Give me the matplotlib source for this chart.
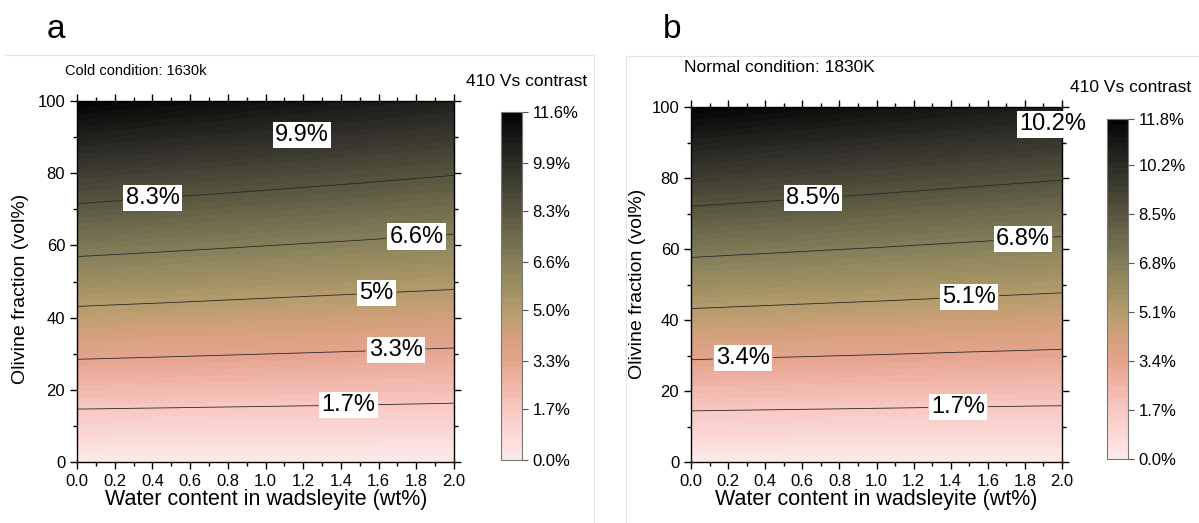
import numpy as np
import matplotlib
matplotlib.use("Agg")
import matplotlib.pyplot as plt
from matplotlib.colors import LinearSegmentedColormap
from matplotlib.lines import Line2D
from matplotlib.ticker import MultipleLocator

plt.rcParams['font.family'] = ['Liberation Sans', 'DejaVu Sans']

# Grid: water content in wadsleyite (wt%) and olivine fraction (vol%)
water = [0.0, 0.5, 1.0, 1.5, 2.0]
olivine = [0, 25, 50, 75, 100]

# 410 km Vs contrast (%) on the grid, rows follow `olivine`, columns follow `water`
contrast_cold = [
    [0.00, 0.00, 0.00, 0.00, 0.00],
    [2.90, 2.83, 2.76, 2.69, 2.61],
    [5.80, 5.66, 5.51, 5.37, 5.23],
    [8.70, 8.48, 8.27, 8.06, 7.84],
    [11.60, 11.31, 11.03, 10.74, 10.45],
]
contrast_normal = [
    [0.00, 0.00, 0.00, 0.00, 0.00],
    [2.95, 2.88, 2.81, 2.74, 2.68],
    [5.90, 5.76, 5.63, 5.49, 5.35],
    [8.85, 8.64, 8.44, 8.23, 8.03],
    [11.80, 11.53, 11.25, 10.98, 10.70],
]

# Labelled contour levels and colour-bar ticks
cold_lines = [1.7, 3.3, 5.0, 6.6, 8.3, 9.9]
cold_line_text = ["1.7%", "3.3%", "5%", "6.6%", "8.3%", "9.9%"]
cold_ticks = [0.0, 1.7, 3.3, 5.0, 6.6, 8.3, 9.9, 11.6]
cold_tick_text = ["0.0%", "1.7%", "3.3%", "5.0%", "6.6%", "8.3%", "9.9%", "11.6%"]
cold_label_pos = [(1.44, 15.5), (1.69, 31.6), (1.59, 46.8), (1.80, 62.6), (0.40, 73.4), (1.19, 91.7)]

normal_lines = [1.7, 3.4, 5.1, 6.8, 8.5, 10.2]
normal_line_text = ["1.7%", "3.4%", "5.1%", "6.8%", "8.5%", "10.2%"]
normal_ticks = [0.0, 1.7, 3.4, 5.1, 6.8, 8.5, 10.2, 11.8]
normal_tick_text = ["0.0%", "1.7%", "3.4%", "5.1%", "6.8%", "8.5%", "10.2%", "11.8%"]
normal_label_pos = [(1.44, 15.8), (0.28, 29.7), (1.50, 46.9), (1.79, 63.8), (0.66, 74.3), (1.95, 95.5)]

cmap = LinearSegmentedColormap.from_list("pink_olive_black", [
    (0.00, "#fdeaea"),
    (0.15, "#f8c6c2"),
    (0.28, "#e6a48f"),
    (0.36, "#d2a07a"),
    (0.44, "#b09a6a"),
    (0.57, "#85805a"),
    (0.71, "#5a5741"),
    (0.85, "#302f29"),
    (1.00, "#030303"),
])

W, H = 1199, 523
fig = plt.figure(figsize=(W / 100, H / 100), dpi=100)


def px(x0, y0, x1, y1):
    return [x0 / W, 1 - y1 / H, (x1 - x0) / W, (y1 - y0) / H]


def panel(ax_box, cb_box, z, vmax, lines, line_text, label_pos, ticks, tick_text,
          letter, letter_xy, cond, cond_xy, cond_size, cbtitle_xy, xlab_xy, ylab_xy):
    ax = fig.add_axes(px(*ax_box))
    X, Y = np.meshgrid(water, olivine)
    Z = np.array(z)
    fill = ax.contourf(X, Y, Z, levels=np.linspace(0, vmax, 57), cmap=cmap, vmin=0, vmax=vmax)
    cs = ax.contour(X, Y, Z, levels=lines, colors="#2a2a2a", linewidths=0.6)
    fmt = dict(zip(cs.levels, line_text))
    labels = ax.clabel(cs, fmt=fmt, manual=label_pos, inline=True, inline_spacing=3, fontsize=17)
    for t in labels:
        t.set_fontsize(17)
        t.set_color("black")
        t.set_alpha(1)
        t.set_bbox(dict(facecolor="white", edgecolor="none", pad=1.5))
        t.set_rotation(0)
        t.set_clip_on(False)
        t.set_zorder(5)
    ax.set_xlim(0, 2)
    ax.set_ylim(0, 100)
    ax.xaxis.set_major_locator(MultipleLocator(0.2))
    ax.xaxis.set_minor_locator(MultipleLocator(0.1))
    ax.yaxis.set_major_locator(MultipleLocator(20))
    ax.yaxis.set_minor_locator(MultipleLocator(10))
    ax.xaxis.set_major_formatter(plt.FuncFormatter(lambda v, p: f"{v:.1f}"))
    ax.tick_params(which="both", direction="out", top=True, right=True, labelsize=12, width=1.0)
    ax.tick_params(which="major", length=5)
    ax.tick_params(which="minor", length=3)
    for s in ax.spines.values():
        s.set_linewidth(1.0)

    cax = fig.add_axes(px(*cb_box))
    cb = fig.colorbar(fill, cax=cax, ticks=ticks)
    cb.ax.set_yticklabels(tick_text)
    cb.ax.tick_params(labelsize=12, length=4, width=0.8, color="#555555")
    cb.outline.set_edgecolor("#777777")
    cb.outline.set_linewidth(0.8)
    cb.ax.minorticks_off()

    fig.text(letter_xy[0] / W, 1 - letter_xy[1] / H, letter, fontsize=24, ha="center", va="baseline")
    fig.text(cond_xy[0] / W, 1 - cond_xy[1] / H, cond, fontsize=cond_size, ha="left", va="center")
    fig.text(cbtitle_xy[0] / W, 1 - cbtitle_xy[1] / H, "410 Vs contrast", fontsize=12.5, ha="center", va="center")
    fig.text(xlab_xy[0] / W, 1 - xlab_xy[1] / H, "Water content in wadsleyite (wt%)", fontsize=15.5,
             ha="center", va="center")
    fig.text(ylab_xy[0] / W, 1 - ylab_xy[1] / H, "Olivine fraction (vol%)", fontsize=14,
             ha="center", va="center", rotation=90)


panel((77, 101, 454, 462), (501, 112, 522, 460), contrast_cold, 11.6,
      cold_lines, cold_line_text, cold_label_pos, cold_ticks, cold_tick_text,
      "a", (56, 38.5), "Cold condition: 1630k", (65, 71), 10.5, (527, 81), (266, 500), (21, 289))
panel((691, 107, 1062, 462), (1107, 119, 1128, 459), contrast_normal, 11.8,
      normal_lines, normal_line_text, normal_label_pos, normal_ticks, normal_tick_text,
      "b", (672, 38), "Normal condition: 1830K", (684, 68), 12.5, (1131, 87), (876, 500), (637, 284))

# light panel frames
frame = "#e3e3e3"
for xs, ys in [((5, 594), (55, 55)), ((594, 594), (55, 523)), ((626, 1199), (56, 56)), ((626, 626), (56, 523))]:
    fig.add_artist(Line2D([x / W for x in xs], [1 - y / H for y in ys], color=frame, linewidth=0.8))

fig.savefig("out.png", dpi=100)
